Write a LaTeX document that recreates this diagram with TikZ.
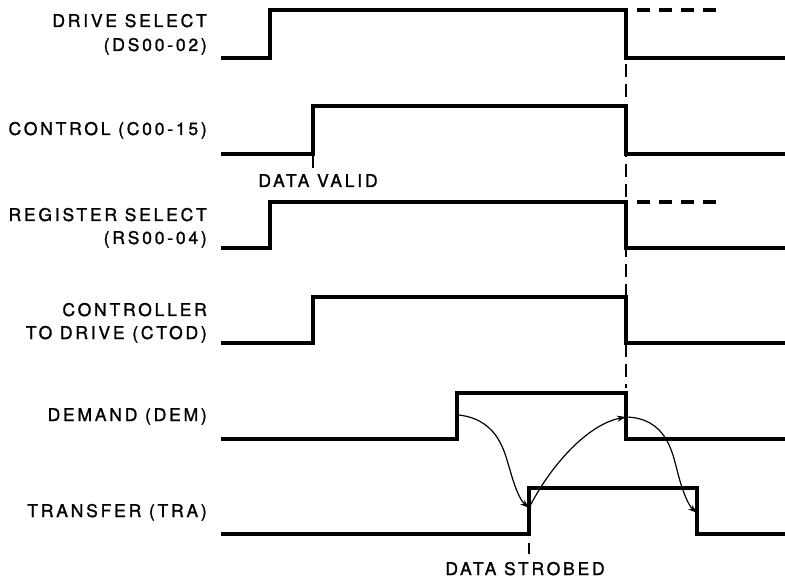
\documentclass[tikz,border=0pt]{standalone}
\usepackage{fontspec}
\setmainfont{TeX Gyre Heros}[LetterSpace=16, FakeBold=1.3]
\usetikzlibrary{arrows.meta}
\begin{document}
\begin{tikzpicture}[x=1pt,y=-1pt,
  sig/.style={line width=3.1pt, line join=miter, line cap=butt},
  ext/.style={line width=3.1pt, dash pattern=on 13pt off 9pt},
  guide/.style={line width=1.7pt, dash pattern=on 13pt off 7pt},
  tickmark/.style={line width=1.6pt},
  arr/.style={line width=1.2pt, -{Stealth[length=9pt,width=6pt]}},
  lbl/.style={anchor=base east, inner sep=0pt, font=\fontsize{17.5}{19}\selectfont},
  captext/.style={anchor=base, inner sep=0pt, font=\fontsize{17.5}{19}\selectfont}]
\useasboundingbox (0,0) rectangle (785,580);

% labels
\node[lbl] (l1a) at (207,27) {DRIVE SELECT};
\node[lbl] (l1b) at (207,51) {(DS00-02)};
\node[lbl] (l2) at (207,135) {CONTROL (C00-15)};
\node[lbl] (l3a) at (207,221) {REGISTER SELECT};
\node[lbl] (l3b) at (207,244) {(RS00-04)};
\node[lbl] (l4a) at (207,316) {CONTROLLER};
\node[lbl] (l4b) at (207,339) {TO DRIVE (CTOD)};
\node[lbl] (l5) at (207,421) {DEMAND (DEM)};
\node[lbl] (l6) at (207,517) {TRANSFER (TRA)};

% waveforms
\draw[sig] (221,58) -- (270,58) -- (270,10) -- (626,10) -- (626,58) -- (785,58);
\draw[ext] (637,10) -- (725,10);
\draw[sig] (221,154) -- (313,154) -- (313,106) -- (626,106) -- (626,154) -- (785,154);
\draw[sig] (221,248) -- (270,248) -- (270,202) -- (626,202) -- (626,248) -- (785,248);
\draw[ext] (637,202) -- (725,202);
\draw[sig] (221,343) -- (313,343) -- (313,297) -- (626,297) -- (626,343) -- (785,343);
\draw[sig] (221,439) -- (457,439) -- (457,393) -- (626,393) -- (626,439) -- (785,439);
\draw[sig] (221,534) -- (529,534) -- (529,488) -- (697,488) -- (697,534) -- (785,534);

% vertical dashed guide
\draw[guide] (626,64) -- (626,388);

% markers
\coordinate (dv) at (313,156);
\draw[tickmark] (dv) -- (313,168);
\node[captext] (dvl) at (318,187) {DATA VALID};
\coordinate (ds) at (529,543);
\draw[tickmark] (ds) -- (529,554);
\node[captext] (dsl) at (525,575) {DATA STROBED};

% causal arrows
\coordinate (demr) at (459,415);
\coordinate (trar) at (529,508);
\coordinate (demf) at (626,417);
\coordinate (traf) at (697,513);
\draw[arr] (demr) .. controls (500,420) and (505,455) .. (510,470) .. controls (515,488) and (520,500) .. (trar);
\draw[arr] (trar) .. controls (548,470) and (585,425) .. (demf);
\draw[arr] (demf) .. controls (665,418) and (672,450) .. (677,470) .. controls (682,490) and (688,505) .. (traf);
\end{tikzpicture}
\end{document}
